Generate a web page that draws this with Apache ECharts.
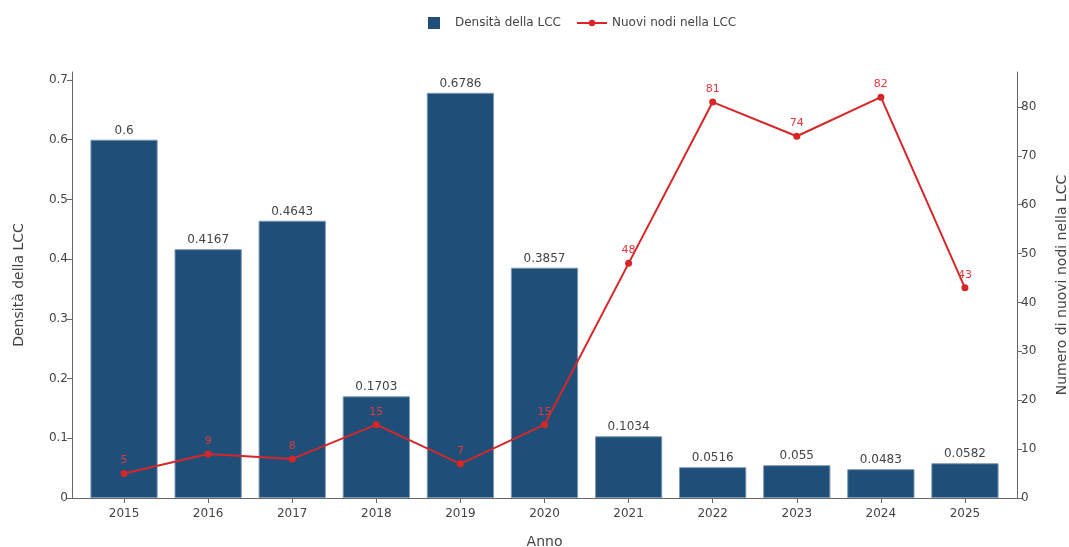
<!DOCTYPE html>
<html>
<head>
<meta charset="utf-8">
<script src="https://cdn.jsdelivr.net/npm/echarts@6/dist/echarts.min.js"></script>
<style>
  html, body { margin: 0; padding: 0; background: #fff; }
  #chart { width: 1069px; height: 547px; }
</style>
</head>
<body>
<div id="chart"></div>
<script>
// Yearly density of the largest connected component and new nodes joining it
const years = ['2015', '2016', '2017', '2018', '2019', '2020', '2021', '2022', '2023', '2024', '2025'];
const density = [0.6, 0.4167, 0.4643, 0.1703, 0.6786, 0.3857, 0.1034, 0.0516, 0.055, 0.0483, 0.0582];
const newNodes = [5, 9, 8, 15, 7, 15, 48, 81, 74, 82, 43];
const densityTicks = [0, 0.1, 0.2, 0.3, 0.4, 0.5, 0.6, 0.7];
const nodeTicks = [0, 10, 20, 30, 40, 50, 60, 70, 80];

const FONT = '"DejaVu Sans", Verdana, sans-serif';
const BAR_COLOR = '#1f4e79';
const LINE_COLOR = '#d62728';
const TEXT = '#444';
const AXIS = '#666';

const chart = echarts.init(document.getElementById('chart'), null, { renderer: 'canvas' });

const gridTop = 72, gridBottom = 49;

chart.setOption({
  animation: false,
  textStyle: { fontFamily: FONT },
  legend: [
    {
      data: ['Densità della LCC'],
      left: 423, top: 12,
      itemWidth: 12, itemHeight: 12,
      icon: 'rect',
      itemStyle: { borderWidth: 0 },
      textStyle: { color: TEXT, fontSize: 12, fontFamily: FONT, padding: [0, 0, 0, 10] }
    },
    {
      data: ['Nuovi nodi nella LCC'],
      left: 571, top: 12,
      itemWidth: 30, itemHeight: 8,
      textStyle: { color: TEXT, fontSize: 12, fontFamily: FONT }
    }
  ],
  grid: [
    { left: 82, right: 62, top: gridTop, bottom: gridBottom, containLabel: false, outerBoundsMode: 'none' },
    // full-width frame that carries the bottom axis line between the two y axes
    { left: 72, right: 52, top: gridTop, bottom: gridBottom, containLabel: false, outerBoundsMode: 'none' }
  ],
  xAxis: [
    {
      type: 'category',
      gridIndex: 0,
      data: years,
      name: 'Anno',
      nameLocation: 'middle',
      nameGap: 37,
      nameTextStyle: { color: TEXT, fontSize: 14, fontFamily: FONT },
      axisLine: { show: false },
      axisTick: { show: true, alignWithLabel: true, length: 5, lineStyle: { color: AXIS } },
      axisLabel: { color: TEXT, fontSize: 12, fontFamily: FONT, margin: 10 },
      splitLine: { show: false }
    },
    {
      type: 'value',
      gridIndex: 1,
      min: 0, max: 1,
      axisLine: { show: true, lineStyle: { color: AXIS, width: 1 } },
      axisTick: { show: false },
      axisLabel: { show: false },
      splitLine: { show: false }
    }
  ],
  yAxis: [
    {
      type: 'value',
      gridIndex: 0,
      position: 'left',
      offset: 10,
      min: 0, max: 0.7134,
      name: 'Densità della LCC',
      nameLocation: 'middle',
      nameGap: 46,
      nameTextStyle: { color: TEXT, fontSize: 14, fontFamily: FONT },
      axisLine: { show: true, lineStyle: { color: AXIS, width: 1 } },
      axisTick: { show: true, length: 5, lineStyle: { color: AXIS }, customValues: densityTicks },
      axisLabel: { color: TEXT, fontSize: 12, fontFamily: FONT, margin: 4, customValues: densityTicks },
      splitLine: { show: false }
    },
    {
      type: 'value',
      gridIndex: 0,
      position: 'right',
      offset: 10,
      min: 0, max: 87.15,
      name: 'Numero di nuovi nodi nella LCC',
      nameLocation: 'middle',
      nameGap: 38,
      nameRotate: 90,
      nameTextStyle: { color: TEXT, fontSize: 14, fontFamily: FONT },
      axisLine: { show: true, lineStyle: { color: AXIS, width: 1 } },
      axisTick: { show: true, length: 5, lineStyle: { color: AXIS }, customValues: nodeTicks },
      axisLabel: { color: TEXT, fontSize: 12, fontFamily: FONT, margin: 4, customValues: nodeTicks },
      splitLine: { show: false }
    },
    {
      type: 'value',
      gridIndex: 1,
      show: false,
      min: 0, max: 1
    }
  ],
  series: [
    {
      name: 'Densità della LCC',
      type: 'bar',
      xAxisIndex: 0,
      yAxisIndex: 0,
      data: density,
      barCategoryGap: '20%',
      itemStyle: { color: BAR_COLOR, borderColor: '#7f9ab4', borderWidth: 1 },
      label: {
        show: true,
        position: 'top',
        distance: 3,
        color: TEXT,
        fontSize: 12,
        fontFamily: FONT,
        formatter: p => String(p.value)
      },
      z: 2
    },
    {
      name: 'Nuovi nodi nella LCC',
      type: 'line',
      xAxisIndex: 0,
      yAxisIndex: 1,
      data: newNodes,
      symbol: 'circle',
      symbolSize: 7,
      lineStyle: { color: LINE_COLOR, width: 2 },
      itemStyle: { color: LINE_COLOR },
      label: {
        show: true,
        position: 'top',
        distance: 4,
        color: '#e0393c',
        fontSize: 11,
        fontFamily: FONT
      },
      z: 3
    }
  ]
});
</script>
</body>
</html>
